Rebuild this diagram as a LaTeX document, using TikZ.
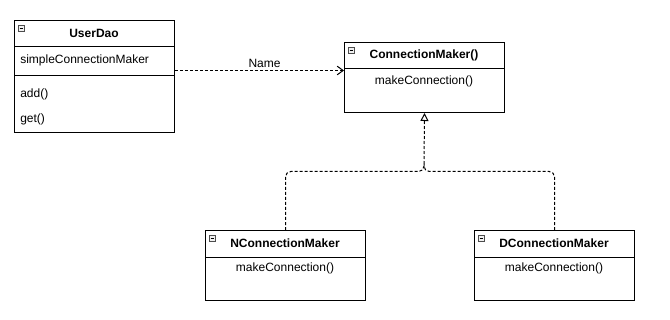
\documentclass[tikz,border=0pt]{standalone}
\usepackage{fontspec}
\setmainfont{Liberation Sans}
\usetikzlibrary{arrows.meta}
\begin{document}
\begin{tikzpicture}[x=0.75pt,y=-0.75pt,
  font=\fontsize{9pt}{11pt}\selectfont,
  classbox/.style={draw=black, line width=0.75pt, minimum width=120pt, inner sep=0pt, anchor=north west},
  title/.style={font=\fontsize{9pt}{11pt}\selectfont\bfseries, inner sep=0pt},
  member/.style={inner sep=0pt},
  divider/.style={draw=black, line width=0.75pt},
  dep/.style={draw=black, line width=0.75pt, dash pattern=on 2.25pt off 1.5pt, -{Straight Barb[length=4.5pt,width=6.5pt]}},
  real/.style={draw=black, line width=0.75pt, dash pattern=on 2.25pt off 1.5pt, rounded corners=4pt},
  minusicon/.pic={
    \draw[draw=gray!60!black, fill=gray!12, line width=0.5pt] (0,0) rectangle (6,6);
    \draw[black, line width=0.7pt] (1.5,3) -- (4.5,3);
  }]
\useasboundingbox[fill=white] (0,0) rectangle (670,320);

% UserDao
\node[classbox, minimum height=84pt] (ud) at (14,20) {};
\draw[divider] (ud.west |- 0,47) -- (ud.east |- 0,47);
\draw[divider] (ud.west |- 0,76) -- (ud.east |- 0,76);
\pic at (18,25) {minusicon};
\node[title] (udt) at (94,33.5) {UserDao};
\node[member, anchor=west] (uda) at (20,60.5) {simpleConnectionMaker};
\node[member, anchor=west] (udm1) at (20,94) {add()};
\node[member, anchor=west] (udm2) at (20,119) {get()};

% ConnectionMaker
\node[classbox, minimum height=52.5pt] (cm) at (344,42) {};
\draw[divider] (cm.west |- 0,68.5) -- (cm.east |- 0,68.5);
\pic at (348,47) {minusicon};
\node[title] (cmt) at (424,55.5) {ConnectionMaker()};
\node[member] (cmm) at (424,81) {makeConnection()};

% NConnectionMaker
\node[classbox, minimum height=52.5pt] (nc) at (205,230) {};
\draw[divider] (nc.west |- 0,257) -- (nc.east |- 0,257);
\pic at (209,235) {minusicon};
\node[title] (nct) at (285,243.5) {NConnectionMaker};
\node[member] (ncm) at (285,268.5) {makeConnection()};

% DConnectionMaker
\node[classbox, minimum height=52.5pt] (dc) at (474,230) {};
\draw[divider] (dc.west |- 0,257) -- (dc.east |- 0,257);
\pic at (478,235) {minusicon};
\node[title] (dct) at (554,243.5) {DConnectionMaker};
\node[member] (dcm) at (554,268.5) {makeConnection()};

% dependency
\coordinate (depy) at (0,70.5);
\draw[dep] (ud.east |- depy) -- (cm.west |- depy)
  node[pos=0.53, above=1.5pt, inner sep=0pt] {Name};

% realization
\coordinate (j) at (424,171.5);
\coordinate (j2) at (424,164);
\draw[real] (nc.north) |- (j) -- (j2);
\draw[real] (dc.north) |- (j) -- (j2);
\draw[draw=black, line width=0.75pt, dash pattern=on 2.25pt off 1.5pt,
  -{Triangle[open,length=6pt,width=6pt,fill=white]}] (j2) -- (cm.south);
\end{tikzpicture}
\end{document}
